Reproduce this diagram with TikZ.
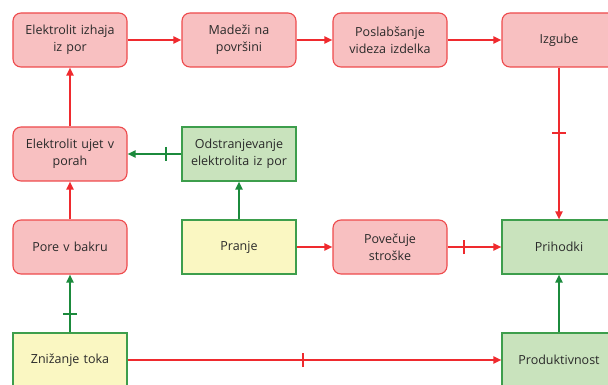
\documentclass[tikz,border=0pt]{standalone}
\usepackage{fontspec}
\setmainfont{Open Sans}
\usetikzlibrary{arrows.meta,decorations.markings}
\definecolor{rfill}{HTML}{F8C0C1}
\definecolor{rdraw}{HTML}{EE4A4C}
\definecolor{rline}{HTML}{EF2A2E}
\definecolor{gfill}{HTML}{C9E3BD}
\definecolor{gdraw}{HTML}{3D9E4C}
\definecolor{gline}{HTML}{1B8A3C}
\definecolor{yfill}{HTML}{FAF7C2}
\definecolor{txt}{HTML}{2A2A2A}
\tikzset{
  box/.style={minimum width=114pt, minimum height=54pt, inner sep=1pt, align=center,
    text width=112pt, font=\fontsize{12.5}{17}\selectfont, text=txt, line width=1.1pt},
  redbox/.style={box, rounded corners=8pt, fill=rfill, draw=rdraw},
  greenbox/.style={box, fill=gfill, draw=gdraw},
  yellowbox/.style={box, fill=yfill, draw=gdraw},
  redarr/.style={draw=rline, line width=1.8pt, -{Triangle[length=8pt,width=7pt]}},
  greenarr/.style={draw=gline, line width=1.8pt, -{Triangle[length=8pt,width=7pt]}},
  tickat/.style={postaction={decorate, decoration={markings,
    mark=at position #1 with {\draw[line width=1.8pt,-] (0,-7pt) -- (0,7pt);}}}}
}
\begin{document}
\begin{tikzpicture}[x=1pt,y=-1pt]
\useasboundingbox (0,0) rectangle (608,385);
\clip (0,0) rectangle (608,385);
\node[redbox] (izhaja) at (70,40) {Elektrolit izhaja\\iz por};
\node[redbox] (madezi) at (239,40) {Madeži na\\površini};
\node[redbox] (poslab) at (390,40) {Poslabšanje\\videza izdelka};
\node[redbox] (izgube) at (559,40) {Izgube};
\node[redbox] (ujet) at (70,154) {Elektrolit ujet v\\porah};
\node[greenbox] (odstr) at (239,154) {Odstranjevanje\\elektrolita iz por};
\node[redbox] (pore) at (70,247) {Pore v bakru};
\node[yellowbox] (pranje) at (239,247) {Pranje};
\node[redbox] (povec) at (390,247) {Povečuje\\stroške};
\node[greenbox] (prih) at (559,247) {Prihodki};
\node[yellowbox] (znizanje) at (70,360) {Znižanje toka};
\node[greenbox] (prod) at (559,360) {Produktivnost};

\draw[redarr] (izhaja) -- (madezi);
\draw[redarr] (madezi) -- (poslab);
\draw[redarr] (poslab) -- (izgube);
\draw[redarr, tickat=0.43] (izgube) -- (prih);
\draw[redarr] (ujet) -- (izhaja);
\draw[greenarr, tickat=0.29] (odstr) -- (ujet);
\draw[greenarr] (pranje) -- (odstr);
\draw[redarr] (pranje) -- (povec);
\draw[redarr, tickat=0.31] (povec) -- (prih);
\draw[redarr] (pore) -- (ujet);
\draw[greenarr, tickat=0.32] (znizanje) -- (pore);
\draw[redarr, tickat=0.47] (znizanje) -- (prod);
\draw[greenarr] (prod) -- (prih);
\end{tikzpicture}
\end{document}
